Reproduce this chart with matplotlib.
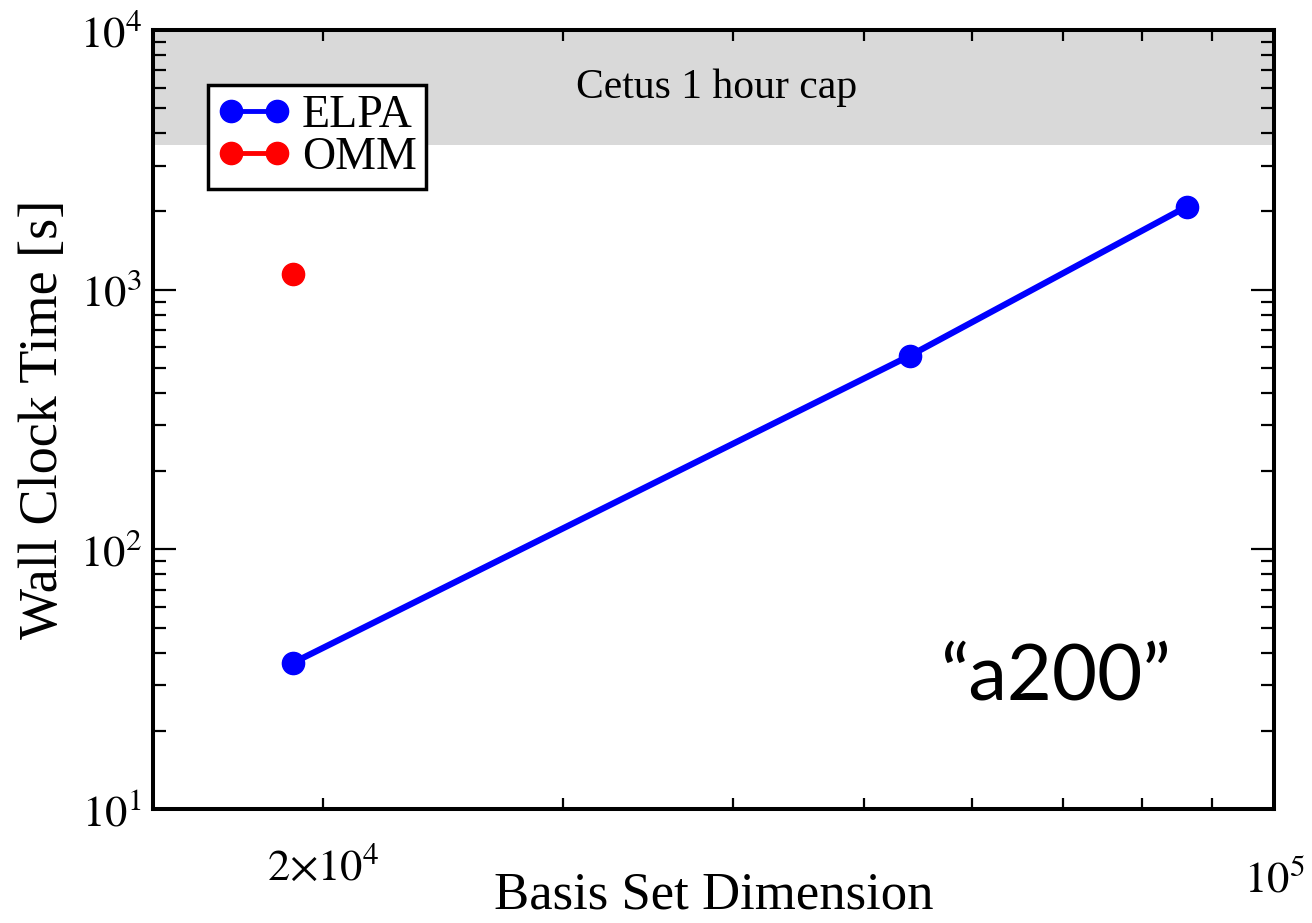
import math

import matplotlib
matplotlib.use("Agg")
import matplotlib.pyplot as plt
from matplotlib.ticker import FixedLocator, FuncFormatter, NullFormatter
from matplotlib.transforms import ScaledTranslation, blended_transform_factory

# data
elpa_dim = [19000, 54000, 86300]
elpa_time = [36.5, 557, 2090]
omm_dim = [19000]
omm_time = [1150]
cap_seconds = 3600

x_major = [2e4, 1e5]
x_major_labels = [r"$2{\times}10^{4}$", r"$10^{5}$"]
x_minor = [3e4, 4e4, 5e4, 6e4, 7e4, 8e4, 9e4]
y_major = [1e1, 1e2, 1e3, 1e4]
y_minor = [m * 10**e for e in (1, 2, 3) for m in range(2, 10)]

plt.rcParams["font.family"] = ["Liberation Serif", "DejaVu Serif"]
plt.rcParams["mathtext.fontset"] = "stix"

fig = plt.figure(figsize=(13.12, 9.23), dpi=100)
ax = fig.add_axes([153 / 1312, 1 - 809 / 923, 1121 / 1312, 779 / 923])

ax.set_xscale("log")
ax.set_yscale("log")
ax.set_xlim(1.5e4, 1e5)
ax.set_ylim(1e1, 1e4)

# the 1 hour cap band
ax.axhspan(cap_seconds, 1e4, color="#d9d9d9", lw=0, zorder=0)
ax.text(0.503, 6000, "Cetus 1 hour cap", fontsize=30, ha="center", va="center",
        transform=blended_transform_factory(ax.transAxes, ax.transData))

ax.plot(elpa_dim, elpa_time, "o-", color="#0000ff", lw=4.5, ms=16, label="ELPA")
ax.plot(omm_dim, omm_time, "o-", color="#ff0000", lw=4.5, ms=16, label="OMM")

ax.text(0.805, 0.14, "\u201ca200\u201d", fontsize=56, family=["Lato", "DejaVu Sans"],
        ha="center", va="baseline", transform=ax.transAxes)

leg = ax.legend(loc="upper left", bbox_to_anchor=(0.049, 0.929), borderaxespad=0,
                fontsize=33, numpoints=2, handlelength=1.6, handletextpad=0.25,
                borderpad=0.2, labelspacing=0.0, fancybox=False, framealpha=1,
                edgecolor="black")
leg.get_frame().set_linewidth(2.5)
for h in leg.get_lines():
    h.set_linewidth(3.5)

ax.xaxis.set_major_locator(FixedLocator(x_major))
ax.xaxis.set_minor_locator(FixedLocator(x_minor))
ax.xaxis.set_major_formatter(FuncFormatter(lambda v, i: x_major_labels[i]))
ax.xaxis.set_minor_formatter(NullFormatter())
ax.yaxis.set_major_locator(FixedLocator(y_major))
ax.yaxis.set_minor_locator(FixedLocator(y_minor))
ax.yaxis.set_major_formatter(FuncFormatter(lambda v, i: r"$10^{%d}$" % round(math.log10(v))))
ax.yaxis.set_minor_formatter(NullFormatter())

ax.tick_params(which="both", direction="in", top=True, right=True, width=1.6)
ax.tick_params(axis="x", which="both", length=8, labelsize=32, pad=28)
ax.tick_params(axis="y", which="major", length=16.5, labelsize=32, pad=8)
ax.tick_params(axis="y", which="minor", length=9.5)
for s in ax.spines.values():
    s.set_linewidth(2.9)

# the 10^5 label sits a bit lower than 2x10^4 in the original
lab = ax.xaxis.get_major_ticks()[1].label1
lab.set_transform(lab.get_transform() + ScaledTranslation(0, -0.12, fig.dpi_scale_trans))

ax.set_xlabel("Basis Set Dimension", fontsize=38, va="baseline")
ax.xaxis.set_label_coords(0.5, -0.128)
ax.set_ylabel("Wall Clock Time [s]", fontsize=39, labelpad=8)

fig.savefig("out.png", dpi=100)
